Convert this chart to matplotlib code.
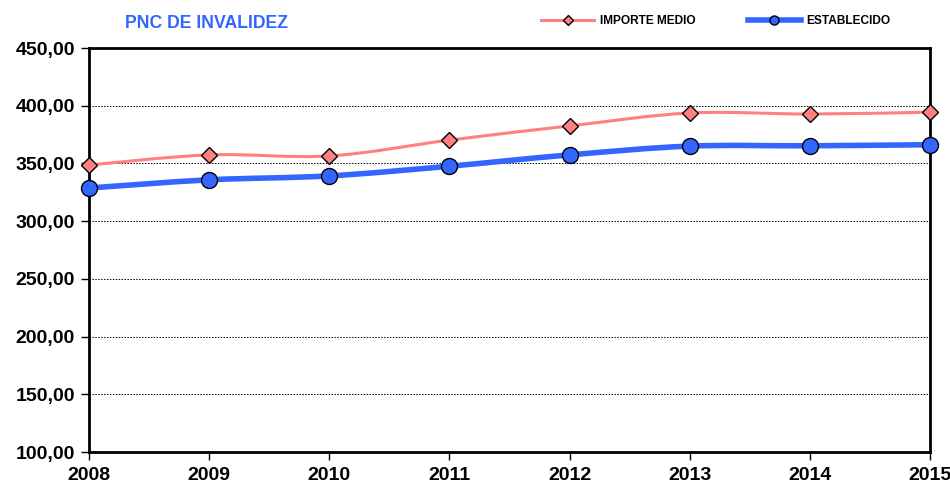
import numpy as np
import matplotlib.pyplot as plt
from matplotlib.path import Path
from matplotlib.patches import PathPatch
from matplotlib.lines import Line2D
from matplotlib.ticker import FuncFormatter

plt.rcParams['font.family'] = ['Liberation Sans Narrow', 'Liberation Sans', 'DejaVu Sans']
plt.rcParams['font.weight'] = 'bold'

# Data
years = [2008, 2009, 2010, 2011, 2012, 2013, 2014, 2015]
importe_medio = [348.6, 357.4, 356.5, 370.2, 382.5, 393.7, 392.8, 394.4]
establecido = [328.7, 335.8, 339.2, 347.6, 357.4, 365.0, 365.3, 366.2]

pink = '#FF8080'
blue = '#3366FF'


def smooth_path(x, y):
    # Excel-style smoothed line as cubic Bezier segments (Catmull-Rom control points)
    x = np.asarray(x, float)
    y = np.asarray(y, float)
    verts = [(x[0], y[0])]
    codes = [Path.MOVETO]
    n = len(x)
    for i in range(n - 1):
        p0 = (x[max(i - 1, 0)], y[max(i - 1, 0)])
        p1 = (x[i], y[i])
        p2 = (x[i + 1], y[i + 1])
        p3 = (x[min(i + 2, n - 1)], y[min(i + 2, n - 1)])
        c1 = (p1[0] + (p2[0] - p0[0]) / 6, p1[1] + (p2[1] - p0[1]) / 6)
        c2 = (p2[0] - (p3[0] - p1[0]) / 6, p2[1] - (p3[1] - p1[1]) / 6)
        verts += [c1, c2, p2]
        codes += [Path.CURVE4] * 3
    return Path(verts, codes)


fig = plt.figure(figsize=(9.5, 4.87), dpi=100)
ax = fig.add_axes([89 / 950, 1 - 452 / 487, (930 - 89) / 950, (452 - 48) / 487])

ax.add_patch(PathPatch(smooth_path(years, importe_medio), fill=False,
                       edgecolor=pink, lw=2.2, zorder=3, clip_on=False))
ax.add_patch(PathPatch(smooth_path(years, establecido), fill=False,
                       edgecolor=blue, lw=4, zorder=3, clip_on=False))
ax.plot(years, importe_medio, ls='none', marker='D', ms=8, mfc=pink, mec='black',
        mew=1, zorder=4, clip_on=False)
ax.plot(years, establecido, ls='none', marker='o', ms=11.5, mfc=blue, mec='black',
        mew=1, zorder=4, clip_on=False)

ax.set_xlim(2008, 2015)
ax.set_ylim(100, 450)
ax.set_xticks(years)
ax.set_yticks(np.arange(100, 451, 50))
ax.yaxis.set_major_formatter(FuncFormatter(lambda v, p: f'{v:.2f}'.replace('.', ',')))
ax.tick_params(axis='both', direction='out', length=6, width=1, labelsize=14, colors='black')
ax.tick_params(axis='x', pad=5)
ax.tick_params(axis='y', pad=4)
for lbl in ax.get_xticklabels() + ax.get_yticklabels():
    lbl.set_fontweight('bold')

ax.grid(axis='y', color='black', ls=(0, (1.5, 1.5)), lw=0.7)
for s in ax.spines.values():
    s.set_linewidth(2)
    s.set_color('black')

fig.text(125 / 950, 1 - 24 / 487, 'PNC DE INVALIDEZ', color=blue, fontsize=12.7,
         fontweight='bold', va='center', ha='left')

handles = [
    Line2D([], [], color=pink, lw=2.2, marker='D', ms=5, mfc=pink, mec='black', mew=1),
    Line2D([], [], color=blue, lw=4, marker='o', ms=6.5, mfc=blue, mec='black', mew=1),
]
fig.legend(handles, ['IMPORTE MEDIO', 'ESTABLECIDO'], ncol=2, frameon=False,
           loc='center', bbox_to_anchor=(716 / 950, 1 - 21 / 487),
           handlelength=4.4, columnspacing=4.4, handletextpad=0.5,
           prop={'weight': 'bold', 'size': 8.6})

fig.savefig('out.png', dpi=100)
